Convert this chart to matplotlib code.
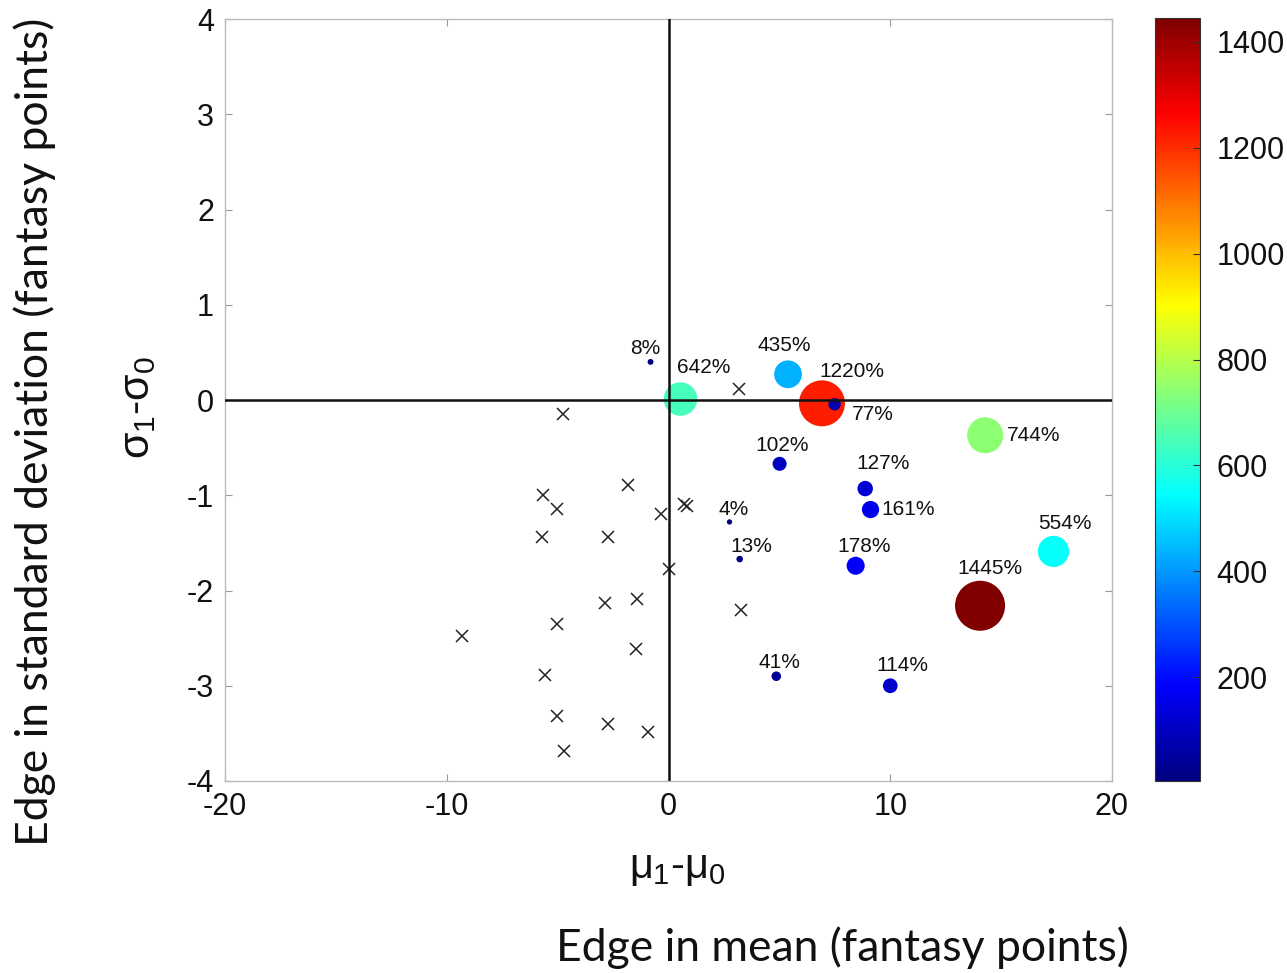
import matplotlib
matplotlib.use("Agg")
import matplotlib.pyplot as plt
from matplotlib.colors import ListedColormap
import numpy as np

# ---- data ----
pct_values = [8, 642, 435, 1220, 77, 102, 127, 161, 4, 13, 178, 554, 1445, 744, 41, 114]
pt_x = [-0.81, 0.54, 5.39, 6.92, 7.49, 5.01, 8.87, 9.11, 2.75, 3.21, 8.44, 17.36, 14.05, 14.28, 4.86, 10.0]
pt_y = [0.40, 0.01, 0.27, -0.035, -0.045, -0.67, -0.93, -1.15, -1.28, -1.67, -1.74, -1.59, -2.16, -0.37, -2.90, -3.00]

cross_x = [-4.76, -1.82, -5.66, -5.05, -0.33, 0.69, 0.84, -5.69, -2.72, 0.03, -2.88, -1.41,
           -5.05, -9.30, -1.46, -5.58, -5.02, -2.72, -0.91, -4.72, 3.17, 3.28]
cross_y = [-0.15, -0.89, -1.00, -1.14, -1.20, -1.095, -1.11, -1.44, -1.44, -1.77, -2.13, -2.09,
           -2.35, -2.48, -2.61, -2.89, -3.32, -3.40, -3.49, -3.69, 0.12, -2.20]

xticks = [-20, -10, 0, 10, 20]
yticks = [-4, -3, -2, -1, 0, 1, 2, 3, 4]
cbar_ticks = [200, 400, 600, 800, 1000, 1200, 1400]

# label offsets in pixels (layout only)
label_offsets = [(-5, 13), (23, 32), (-4, 29), (30, 32), (38, -10), (3, 18), (18, 25), (38, 0),
                 (4, 12), (12, 13), (8, 19), (11, 28), (10, 37), (48, 0), (3, 14), (12, 20)]

plt.rcParams['font.family'] = ['Liberation Sans', 'DejaVu Sans']
plt.rcParams['mathtext.fontset'] = 'custom'
plt.rcParams['mathtext.rm'] = 'Liberation Sans'
plt.rcParams['mathtext.it'] = 'Liberation Sans'

# MATLAB-style jet colormap
_t = np.linspace(0, 1, 256)
_r = np.clip(np.minimum(4 * _t - 1.5, -4 * _t + 4.5), 0, 1)
_g = np.clip(np.minimum(4 * _t - 0.5, -4 * _t + 3.5), 0, 1)
_b = np.clip(np.minimum(4 * _t + 0.5, -4 * _t + 2.5), 0, 1)
cmap = ListedColormap(np.column_stack([_r, _g, _b]), name='matlab_jet')

fig = plt.figure(figsize=(12.87, 9.73), dpi=100)
ax = fig.add_axes([225/1287, 1-781/973, 887/1287, 762/973])

vals = np.array(pct_values, dtype=float)
order = np.argsort(-vals)
sizes = 0.89 * vals + 11
sc = ax.scatter(np.array(pt_x)[order], np.array(pt_y)[order], s=sizes[order], c=vals[order],
                cmap=cmap, vmin=vals.min(), vmax=vals.max(), edgecolors='none', zorder=3)

ax.plot(cross_x, cross_y, linestyle='none', marker='x', color='#222222', markersize=8,
        markeredgewidth=1.1, zorder=2)

ax.axhline(0, color='#111111', lw=1.8, zorder=4)
ax.axvline(0, color='#111111', lw=1.8, zorder=4)

for v, x, y, off in zip(pct_values, pt_x, pt_y, label_offsets):
    ax.annotate(f"{v}%", (x, y), xytext=off, textcoords='offset pixels',
                ha='center', va='center', fontsize=15, color='#111111', zorder=5)

ax.set_xlim(-20, 20)
ax.set_ylim(-4, 4)
ax.set_xticks(xticks)
ax.set_yticks(yticks)
ax.set_xticklabels([str(t) for t in xticks])
ax.set_yticklabels([str(t) for t in yticks])
ax.tick_params(direction='in', length=5, width=0.8, color='#999999', labelsize=22,
               labelcolor='#111111', top=True, right=True, pad=8)
for sp in ax.spines.values():
    sp.set_color('#bbbbbb')
    sp.set_linewidth(1.0)

ax.set_ylabel(r'$\sigma_1$-$\sigma_0$', fontsize=31, color='#111111')
ax.yaxis.set_label_coords(-0.075, 0.49)
ax.set_xlabel(r'$\mu_1$-$\mu_0$', fontsize=30, color='#111111')
ax.xaxis.set_label_coords(0.51, -0.088)

cax = fig.add_axes([1155/1287, 1-781/973, 45/1287, 763/973])
cb = fig.colorbar(sc, cax=cax, ticks=cbar_ticks)
cb.ax.tick_params(direction='in', length=5, width=0.8, color='#333333', labelsize=22,
                  labelcolor='#111111', pad=12)
cb.outline.set_edgecolor('#333333')
cb.outline.set_linewidth(0.8)

fig.text(842/1287, 1-948/973, 'Edge in mean (fantasy points)', fontsize=32,
         family=['Lato', 'DejaVu Sans'], ha='center', va='center', color='#111111')
fig.text(35/1287, 1-432/973, 'Edge in standard deviation (fantasy points)', fontsize=32,
         family=['Lato', 'DejaVu Sans'], ha='center', va='center', rotation=90, color='#111111')

fig.savefig('out.png', dpi=100)
